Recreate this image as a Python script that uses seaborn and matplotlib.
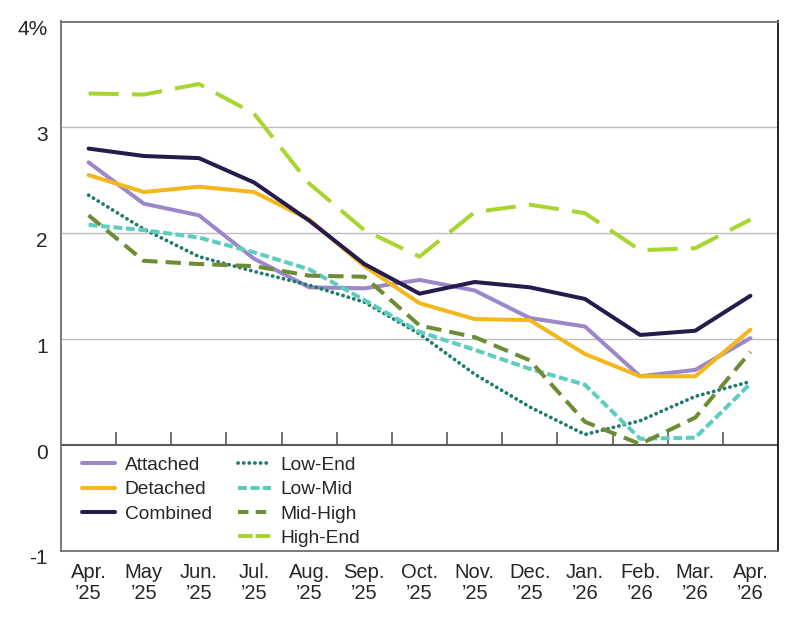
import numpy as np
import pandas as pd
import matplotlib
matplotlib.use("Agg")
import matplotlib.pyplot as plt
import matplotlib.transforms as mtransforms
from matplotlib.lines import Line2D
import seaborn as sns

months = ["Apr.\n\u201925", "May\n\u201925", "Jun.\n\u201925", "Jul.\n\u201925", "Aug.\n\u201925",
          "Sep.\n\u201925", "Oct.\n\u201925", "Nov.\n\u201925", "Dec.\n\u201925", "Jan.\n\u201926",
          "Feb.\n\u201926", "Mar.\n\u201926", "Apr.\n\u201926"]

attached = [2.67, 2.28, 2.17, 1.76, 1.49, 1.48, 1.56, 1.46, 1.20, 1.12, 0.65, 0.71, 1.01]
detached = [2.55, 2.39, 2.44, 2.39, 2.13, 1.69, 1.34, 1.19, 1.18, 0.86, 0.65, 0.65, 1.09]
combined = [2.80, 2.73, 2.71, 2.48, 2.12, 1.71, 1.43, 1.54, 1.49, 1.38, 1.04, 1.08, 1.41]
low_end = [2.36, 2.04, 1.78, 1.64, 1.51, 1.35, 1.05, 0.67, 0.36, 0.10, 0.23, 0.46, 0.60]
low_mid = [2.08, 2.03, 1.96, 1.82, 1.66, 1.37, 1.07, 0.90, 0.72, 0.57, 0.06, 0.07, 0.58]
mid_high = [2.17, 1.74, 1.71, 1.69, 1.60, 1.59, 1.13, 1.02, 0.80, 0.22, 0.01, 0.26, 0.88]
high_end = [3.32, 3.31, 3.41, 3.13, 2.47, 2.03, 1.78, 2.20, 2.27, 2.19, 1.84, 1.86, 2.13]

series_names = ["Attached", "Detached", "Combined", "Low-End", "Low-Mid", "Mid-High", "High-End"]
series_vals = [attached, detached, combined, low_end, low_mid, mid_high, high_end]
y_ticks = [-1, 0, 1, 2, 3, 4]
y_labels = ["-1", "0", "1", "2", "3", "4%"]

colors = {
    "Attached": "#9c87c9",
    "Detached": "#f2b81e",
    "Combined": "#261b4c",
    "Low-End": "#1e7a6c",
    "Low-Mid": "#5dcdbf",
    "Mid-High": "#6d8c35",
    "High-End": "#a9d530",
}
styles = {
    "Attached": dict(linestyle="-", solid_capstyle="round"),
    "Detached": dict(linestyle="-", solid_capstyle="round"),
    "Combined": dict(linestyle="-", solid_capstyle="round"),
    "Low-End": dict(linestyle=(0, (0.05, 1.45)), dash_capstyle="round"),
    "Low-Mid": dict(linestyle=(0, (2.2, 0.9)), dash_capstyle="butt"),
    "Mid-High": dict(linestyle=(0, (3.8, 2.0)), dash_capstyle="butt"),
    "High-End": dict(linestyle=(0, (7.5, 3.3)), dash_capstyle="butt"),
}
legend_styles = dict(styles)
legend_styles["Mid-High"] = dict(linestyle=(0, (2.6, 1.8)), dash_capstyle="butt")
legend_styles["High-End"] = dict(linestyle=(0, (3.6, 0.8)), dash_capstyle="butt")

rows = []
for name, vals in zip(series_names, series_vals):
    for i, v in enumerate(vals):
        rows.append({"series": name, "x": i, "value": v})
df = pd.DataFrame(rows)

sns.set_style("white")
plt.rcParams["font.family"] = ["Liberation Sans", "DejaVu Sans"]

fig = plt.figure(figsize=(8, 6.2), dpi=100)
ax = fig.add_axes([61 / 800, 1 - 551 / 620, 717 / 800, 529.5 / 620])

# grid and zero line
for yv in [1, 2, 3]:
    ax.axhline(yv, color="#bdbdbd", lw=1.0, zorder=0)
ax.axhline(0, color="#5a5a5a", lw=1.5, zorder=1)
ax.vlines(np.arange(0.5, len(months) - 1, 1.0), 0, 0.125, color="#5a5a5a", lw=1.2, zorder=1)

handles = {}
for name in series_names:
    sub = df[df["series"] == name]
    lw = 2.7 if name == "Low-End" else 2.9
    sns.lineplot(data=sub, x="x", y="value", ax=ax, color=colors[name], linewidth=lw,
                 legend=False, zorder=3, **styles[name])
    handles[name] = Line2D([], [], color=colors[name], linewidth=lw, **legend_styles[name])

ax.set_xlim(-0.5, len(months) - 0.5)
ax.set_ylim(-1, 4)
ax.set_xticks(range(len(months)))
ax.set_xticklabels(months, fontsize=14.5, linespacing=1.12)
ax.set_yticks(y_ticks)
ax.set_yticklabels(y_labels, fontsize=15)
ax.tick_params(axis="both", length=0)
ax.tick_params(axis="x", pad=8.5)
ax.tick_params(axis="y", pad=9.5)
offset = mtransforms.ScaledTranslation(0, -6 / 100, fig.dpi_scale_trans)
for lab in ax.get_yticklabels():
    lab.set_transform(lab.get_transform() + offset)
ax.set_xlabel("")
ax.set_ylabel("")

for side in ["left", "top", "bottom"]:
    ax.spines[side].set_color("#6e6e6e")
    ax.spines[side].set_linewidth(1.3)
ax.spines["right"].set_color("#111111")
ax.spines["right"].set_linewidth(1.3)

blank = Line2D([], [], color="none")
order = ["Attached", "Detached", "Combined", None, "Low-End", "Low-Mid", "Mid-High", "High-End"]
leg_h = [handles[n] if n else blank for n in order]
leg_l = [n if n else "" for n in order]
leg = ax.legend(leg_h, leg_l, ncol=2, loc="upper left", bbox_to_anchor=(0.029, 0.178),
                frameon=False, fontsize=13.8, handlelength=1.72, handletextpad=0.52,
                columnspacing=1.35, labelspacing=0.36, borderaxespad=0, borderpad=0)

fig.savefig("out.png", dpi=100)
